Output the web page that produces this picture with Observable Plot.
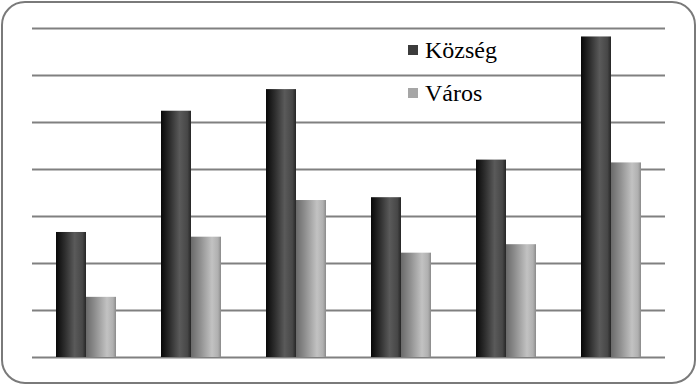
<!DOCTYPE html>
<html>
<head>
<meta charset="utf-8">
<script src="https://cdn.jsdelivr.net/npm/d3@7"></script>
<script src="https://cdn.jsdelivr.net/npm/@observablehq/plot@0.6"></script>
</head>
<body style="margin:0;padding:0;background:#fff;font-family:'Liberation Serif','Times New Roman',Times,serif;">
<div id="wrap" style="position:relative;width:697px;height:387px;">
  <div id="chart" style="position:absolute;left:0;top:0;"></div>
  <div id="border" style="position:absolute;left:1px;top:1px;width:695px;height:383px;box-sizing:border-box;border:2px solid #7a7a7a;border-radius:24px;pointer-events:none;"></div>
  <div id="legend"></div>
</div>
<script>
const categories = ["1", "2", "3", "4", "5", "6"];
const seriesNames = ["Község", "Város"];
const kozseg = [13.3, 26.2, 28.5, 17.0, 21.0, 34.1];
const varos = [6.4, 12.8, 16.7, 11.1, 12.0, 20.7];
const gridTicks = [0, 5, 10, 15, 20, 25, 30, 35];
const swatchColors = ["#3c3c3c", "#a6a6a6"];

const rows = categories.map((c, i) => ({cat: c, k: kozseg[i], v: varos[i]}));

const W = 697, H = 387;
const chart = Plot.plot({
  width: W,
  height: H,
  marginLeft: 32,
  marginRight: 32,
  marginTop: 28,
  marginBottom: 30,
  style: {background: "transparent", fontFamily: "'Liberation Serif', serif"},
  x: {type: "band", domain: categories, paddingInner: 0.43, paddingOuter: 0.225, axis: null},
  y: {domain: [0, 35], axis: null},
  marks: [
    Plot.ruleY(gridTicks, {stroke: "#808080", strokeWidth: 2}),
    Plot.barY(rows, {x: "cat", y: "k", fill: "url(#gradDark)", insetRight: 30, insetLeft: 0}),
    Plot.barY(rows, {x: "cat", y: "v", fill: "url(#gradLight)", insetLeft: 30, insetRight: 0})
  ]
});

const ns = "http://www.w3.org/2000/svg";
const defs = document.createElementNS(ns, "defs");
defs.innerHTML = `
  <linearGradient id="gradDark" x1="0" x2="1" y1="0" y2="0">
    <stop offset="0" stop-color="#080808"/>
    <stop offset="0.3" stop-color="#2e2e2e"/>
    <stop offset="0.62" stop-color="#5a5a5a"/>
    <stop offset="0.88" stop-color="#474747"/>
    <stop offset="1" stop-color="#262626"/>
  </linearGradient>
  <linearGradient id="gradLight" x1="0" x2="1" y1="0" y2="0">
    <stop offset="0" stop-color="#6a6a6a"/>
    <stop offset="0.3" stop-color="#8e8e8e"/>
    <stop offset="0.7" stop-color="#c2c2c2"/>
    <stop offset="0.9" stop-color="#b0b0b0"/>
    <stop offset="1" stop-color="#8a8a8a"/>
  </linearGradient>`;
chart.insertBefore(defs, chart.firstChild);
document.getElementById("chart").appendChild(chart);

const legend = document.getElementById("legend");
seriesNames.forEach((name, i) => {
  const sw = document.createElement("div");
  sw.style.cssText = `position:absolute;width:10px;height:10px;left:408px;top:${45 + i * 43}px;background:${swatchColors[i]};`;
  legend.appendChild(sw);
  const tx = document.createElement("div");
  tx.style.cssText = `position:absolute;left:425px;top:${38 + i * 43}px;font-family:'Liberation Serif','Times New Roman',Times,serif;font-size:24px;line-height:24px;color:#000;white-space:nowrap;`;
  tx.textContent = name;
  legend.appendChild(tx);
});
</script>
</body>
</html>
